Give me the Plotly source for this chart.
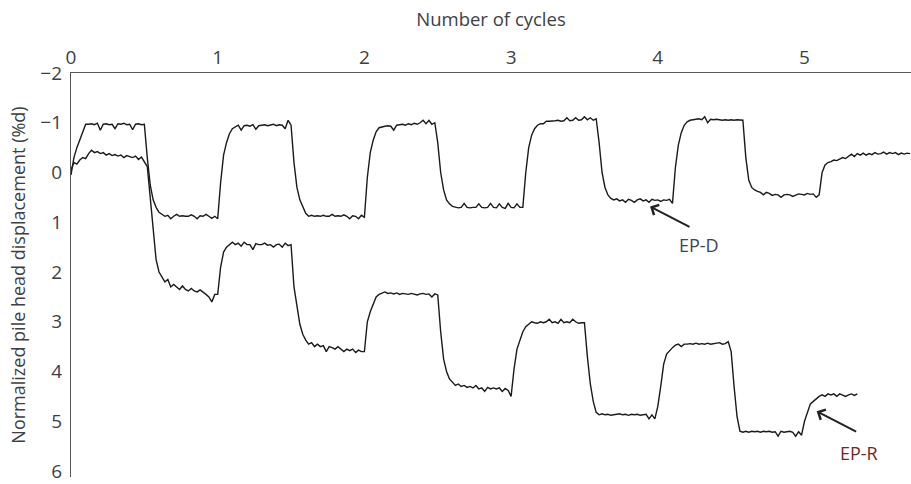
import plotly.graph_objects as go

# Sampling step of the digitised records (cycles)
step = 0.02

# EP-D record, rows of 5 samples = 0.1 cycle each
disp_epd = [
    0.05, -0.3, -0.5, -0.65, -0.8,
    -0.97, -0.97, -0.98, -0.96, -0.99,
    -0.85, -0.97, -0.98, -0.96, -0.97,
    -0.88, -0.98, -0.97, -0.99, -0.96,
    -0.97, -0.86, -0.97, -0.98, -0.96,
    -0.97, -0.3, 0.25, 0.55, 0.7,
    0.8, 0.84, 0.88, 0.86, 0.93,
    0.88, 0.84, 0.88, 0.87, 0.88,
    0.88, 0.85, 0.88, 0.93, 0.87,
    0.88, 0.84, 0.88, 0.92, 0.88,
    0.93, 0.2, -0.35, -0.6, -0.78,
    -0.88, -0.92, -0.95, -0.85, -0.94,
    -0.95, -0.93, -0.96, -0.87, -0.94,
    -0.95, -0.96, -0.94, -0.95, -0.97,
    -0.94, -0.96, -0.95, -0.88, -1.05,
    -0.95, -0.2, 0.3, 0.55, 0.7,
    0.82, 0.88, 0.86, 0.88, 0.87,
    0.88, 0.86, 0.88, 0.88, 0.84,
    0.88, 0.87, 0.88, 0.85, 0.88,
    0.93, 0.87, 0.88, 0.93, 0.86,
    0.9, 0.1, -0.4, -0.65, -0.82,
    -0.9, -0.92, -0.93, -0.94, -0.93,
    -0.85, -0.95, -0.96, -0.97, -0.95,
    -0.98, -0.96, -0.99, -0.97, -1.0,
    -1.05, -0.98, -1.05, -0.97, -1.0,
    -0.6, 0.0, 0.35, 0.55, 0.63,
    0.68, 0.7, 0.71, 0.70, 0.62,
    0.70, 0.71, 0.70, 0.70, 0.63,
    0.70, 0.71, 0.70, 0.62, 0.70,
    0.71, 0.63, 0.70, 0.72, 0.62,
    0.70, 0.71, 0.63, 0.70, 0.70,
    0.0, -0.5, -0.75, -0.88, -0.95,
    -0.98, -0.98, -1.03, -1.03, -1.03,
    -1.04, -1.05, -1.03, -1.04, -1.1,
    -1.04, -1.05, -1.1, -1.05, -1.06,
    -1.12, -1.06, -1.10, -1.05, -1.08,
    -0.6, 0.0, 0.3, 0.45, 0.52,
    0.55, 0.53, 0.57, 0.55, 0.6,
    0.54, 0.56, 0.6, 0.55, 0.53,
    0.57, 0.55, 0.6, 0.54, 0.56,
    0.55, 0.58, 0.55, 0.56, 0.54,
    0.62, -0.1, -0.55, -0.8, -0.95,
    -1.02, -1.05, -1.06, -1.07, -1.08,
    -1.06, -1.12, -1.0, -1.07, -1.06,
    -1.07, -1.06, -1.05, -1.06, -1.05,
    -1.06, -1.05, -1.06, -1.05, -1.05,
    -0.3, 0.15, 0.3, 0.35, 0.38,
    0.4, 0.45, 0.40, 0.42, 0.46,
    0.44, 0.45, 0.5, 0.45, 0.44,
    0.45, 0.48, 0.45, 0.43, 0.44,
    0.45, 0.42, 0.44, 0.43, 0.5,
    0.45, 0.0, -0.15, -0.2, -0.22,
    -0.25, -0.24, -0.27, -0.3, -0.28,
    -0.33, -0.37, -0.32, -0.38, -0.35,
    -0.39, -0.35, -0.38, -0.36, -0.4,
    -0.37, -0.38, -0.41, -0.37, -0.4,
    -0.38, -0.4, -0.36, -0.39, -0.37,
    -0.39, -0.38,
]

# EP-R record, rows of 5 samples = 0.1 cycle each
disp_epr = [
    -0.05, -0.2, -0.17, -0.25, -0.3,
    -0.28, -0.38, -0.45, -0.4, -0.42,
    -0.38, -0.4, -0.35, -0.38, -0.34,
    -0.36, -0.33, -0.35, -0.3, -0.34,
    -0.32, -0.3, -0.33, -0.26, -0.31,
    -0.22, -0.12, 0.5, 1.15, 1.75,
    2.0, 2.1, 2.2, 2.15, 2.3,
    2.25, 2.3, 2.35, 2.28, 2.35,
    2.38, 2.33, 2.38, 2.4, 2.36,
    2.4, 2.45, 2.5, 2.6, 2.45,
    2.45, 1.9, 1.6, 1.5, 1.45,
    1.4, 1.45, 1.42, 1.48, 1.4,
    1.45, 1.45, 1.55, 1.43, 1.45,
    1.45, 1.42, 1.46, 1.45, 1.5,
    1.45, 1.44, 1.5, 1.42, 1.47,
    1.45, 2.3, 2.7, 3.05, 3.25,
    3.37, 3.45, 3.42, 3.5, 3.45,
    3.5, 3.48, 3.6, 3.5, 3.52,
    3.55, 3.5, 3.55, 3.6, 3.55,
    3.58, 3.55, 3.62, 3.57, 3.6,
    3.6, 3.0, 2.8, 2.65, 2.5,
    2.45, 2.42, 2.4, 2.43, 2.42,
    2.44, 2.42, 2.45, 2.43, 2.44,
    2.45, 2.43, 2.44, 2.46, 2.44,
    2.43, 2.45, 2.44, 2.5, 2.44,
    2.46, 3.2, 3.75, 4.0, 4.15,
    4.22, 4.28, 4.25, 4.3, 4.28,
    4.32, 4.3, 4.33, 4.28, 4.35,
    4.33, 4.4, 4.32, 4.35, 4.33,
    4.35, 4.33, 4.4, 4.34, 4.38,
    4.5, 3.95, 3.55, 3.35, 3.2,
    3.1, 3.05, 3.0, 3.02, 3.03,
    3.0, 3.02, 3.0, 2.95, 3.02,
    3.0, 3.03, 2.95, 3.02, 3.0,
    3.02, 2.95, 3.0, 3.03, 3.02,
    3.02, 3.7, 4.25, 4.6, 4.82,
    4.87, 4.85, 4.87, 4.86, 4.88,
    4.87, 4.86, 4.85, 4.87, 4.86,
    4.88, 4.86, 4.87, 4.86, 4.88,
    4.87, 4.86, 4.95, 4.87, 4.95,
    4.7, 4.3, 3.85, 3.65, 3.58,
    3.52, 3.47, 3.45, 3.5, 3.45,
    3.45, 3.44, 3.45, 3.43, 3.45,
    3.44, 3.45, 3.43, 3.45, 3.44,
    3.43, 3.42, 3.45, 3.44, 3.4,
    3.6, 4.3, 4.9, 5.2, 5.22,
    5.2, 5.22, 5.2, 5.21, 5.2,
    5.22, 5.2, 5.21, 5.2, 5.22,
    5.21, 5.3, 5.2, 5.22, 5.21,
    5.2, 5.22, 5.3, 5.21, 5.28,
    5.0, 4.8, 4.65, 4.6, 4.55,
    4.5, 4.47, 4.5, 4.45, 4.47,
    4.45, 4.5, 4.45, 4.47, 4.5,
    4.47, 4.45, 4.48, 4.45,
]

cycles_epd = [round(i * step, 3) for i in range(len(disp_epd))]
cycles_epr = [round(i * step, 3) for i in range(len(disp_epr))]

x_ticks = [0, 1, 2, 3, 4, 5]
y_ticks = [-2, -1, 0, 1, 2, 3, 4, 5, 6]

labels = ["EP-D", "EP-R"]
label_colors = ["#3e4450", "#6b2a26"]
arrow_tips = [(3.947, 0.684), (5.083, 4.80)]
label_pos = [(4.28, 1.45), (5.37, 5.63)]

text_col = "#3d3f45"
font_family = "Open Sans, DejaVu Sans, sans-serif"

fig = go.Figure()
for xs, ys in [(cycles_epd, disp_epd), (cycles_epr, disp_epr)]:
    fig.add_trace(go.Scatter(x=xs, y=ys, mode="lines",
                             line=dict(color="#1a1a1a", width=1.4),
                             showlegend=False, hoverinfo="skip"))

for lab, col, (tx, ty), (lx, ly) in zip(labels, label_colors, arrow_tips, label_pos):
    fig.add_annotation(x=tx, y=ty, xref="x", yref="y", text="",
                       showarrow=True, arrowhead=4, arrowsize=1.1,
                       arrowwidth=2, arrowcolor="#222222", ax=41, ay=21)
    fig.add_annotation(x=lx, y=ly, xref="x", yref="y", text=lab,
                       showarrow=False, font=dict(size=18, color=col,
                                                  family=font_family))

fig.update_layout(
    width=911, height=484,
    margin=dict(l=71, r=0, t=73, b=7),
    paper_bgcolor="white", plot_bgcolor="white",
    font=dict(family=font_family, color=text_col, size=19),
    xaxis=dict(side="top", range=[0, 5.726], tickvals=x_ticks,
               showgrid=False, zeroline=False, showline=True,
               linecolor="#555555", linewidth=1.3, ticks="",
               ticklabelstandoff=0,
               title=dict(text="Number of cycles", standoff=12,
                          font=dict(size=18.5, color=text_col))),
    yaxis=dict(range=[6.12, -2], tickvals=y_ticks,
               showgrid=False, zeroline=False, showline=True,
               linecolor="#555555", linewidth=1.3, ticks="",
               ticklabelstandoff=4,
               title=dict(text="Normalized pile head displacement (%d)",
                          standoff=10, font=dict(size=18, color=text_col))),
)

fig.write_html("out.html")
